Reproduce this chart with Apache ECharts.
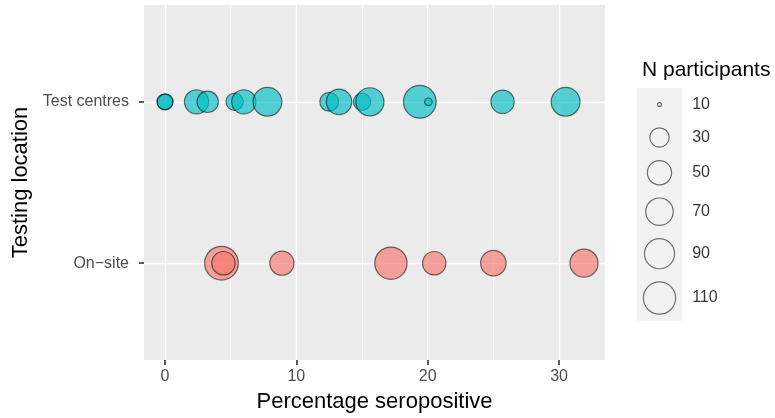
<!DOCTYPE html>
<html>
<head>
<meta charset="utf-8">
<script src="https://cdn.jsdelivr.net/npm/echarts@6/dist/echarts.min.js"></script>
<style>
html,body{margin:0;padding:0;background:#fff;}
#chart{width:775px;height:418px;}
</style>
</head>
<body>
<div id="chart"></div>
<script>
// ---- data ----
const yCategories = ['On\u2212site', 'Test centres'];   // y value = index + 1
const testCentrePct = [0, 0, 2.4, 3.25, 5.3, 6.0, 7.8, 12.5, 13.25, 15.0, 15.6, 19.4, 20.05, 25.7, 30.5];
const testCentreN   = [21, 20, 50, 37, 24, 50, 80, 28, 57, 24, 75, 115, 11, 46, 80];
const onSitePct = [4.3, 4.45, 8.9, 17.2, 20.5, 25.0, 31.9];
const onSiteN   = [125, 46, 50, 110, 46, 57, 75];
const xTicks = [0, 10, 20, 30];
const xMinorTicks = [5, 15, 25];
const legendBreaks = [10, 30, 50, 70, 90, 110];
const legendTitle = 'N participants';
const xTitle = 'Percentage seropositive';
const yTitle = 'Testing location';

// ---- styling / layout ----
const BW = 1.2;
function visibleDiam(n) { return 2 * 4.16 * Math.pow(Math.max(n - 9.8, 0.05), 0.302); }
function symSize(n) { return visibleDiam(n) - BW; }

// legend key layout (heights derived from symbol sizes)
const keyHeights = legendBreaks.map(n => Math.max(33, visibleDiam(n) + 12));
const legendH = keyHeights.reduce((a, b) => a + b, 0);
const keyCenters = [];
{ let acc = 0; keyHeights.forEach(h => { keyCenters.push(acc + h / 2); acc += h; }); }

const chart = echarts.init(document.getElementById('chart'));
const testIdx = yCategories.indexOf('Test centres') + 1;
const onIdx = yCategories.indexOf('On\u2212site') + 1;
const yTickVals = yCategories.map((c, i) => i + 1);

const gridLineMarks = {
  silent: true, symbol: 'none', z: 1, animation: false,
  label: { show: false },
  emphasis: { disabled: true },
  data: [
    ...xTicks.map(v => ({ xAxis: v, lineStyle: { color: '#fff', width: 1.4, type: 'solid' } })),
    ...xMinorTicks.map(v => ({ xAxis: v, lineStyle: { color: '#fff', width: 0.7, type: 'solid' } })),
    ...yTickVals.map(v => ({ yAxis: v, lineStyle: { color: '#fff', width: 1.4, type: 'solid' } }))
  ]
};

const option = {
  animation: false,
  textStyle: { fontFamily: 'Liberation Sans, Arial, sans-serif' },
  title: {
    text: legendTitle, left: 637, top: 55,
    textStyle: { fontSize: 21, fontWeight: 'normal', color: '#000' }
  },
  grid: [
    { left: 144, top: 5, width: 461, height: 358, show: true, backgroundColor: '#EBEBEB', borderWidth: 0 },
    { left: 637, top: 88, width: 45, height: legendH, show: true, backgroundColor: '#F2F2F2', borderWidth: 0 }
  ],
  xAxis: [
    {
      gridIndex: 0, type: 'value', min: -1.6, max: 33.5, position: 'bottom',
      axisLine: { show: true, onZero: false, lineStyle: { color: 'rgba(0,0,0,0)', width: 0 } },
      axisTick: { show: true, inside: false, customValues: xTicks, length: 5, lineStyle: { color: '#333', width: 1.6 } },
      axisLabel: { customValues: xTicks, color: '#4D4D4D', fontSize: 16, margin: 9 },
      splitLine: { show: false },
      name: xTitle, nameLocation: 'middle', nameGap: 31,
      nameTextStyle: { fontSize: 22, color: '#000' }
    },
    { gridIndex: 1, type: 'value', min: -1, max: 1, show: false }
  ],
  yAxis: [
    {
      gridIndex: 0, type: 'value', min: 0.4, max: 2.6,
      axisLine: { show: true, onZero: false, lineStyle: { color: 'rgba(0,0,0,0)', width: 0 } },
      axisTick: { show: true, customValues: yTickVals, length: 5, lineStyle: { color: '#333', width: 1.6 } },
      axisLabel: {
        customValues: yTickVals, color: '#4D4D4D', fontSize: 16, margin: 15,
        formatter: v => yCategories[Math.round(v) - 1] || ''
      },
      splitLine: { show: false },
      name: yTitle, nameLocation: 'middle', nameGap: 112,
      nameTextStyle: { fontSize: 22, color: '#000' }
    },
    { gridIndex: 1, type: 'value', min: 0, max: legendH, inverse: true, show: false }
  ],
  series: [
    {
      type: 'scatter', xAxisIndex: 0, yAxisIndex: 0, z: 2,
      data: testCentrePct.map((p, i) => [p, testIdx, testCentreN[i]]),
      symbolSize: v => symSize(v[2]),
      itemStyle: { color: 'rgba(0,191,196,0.65)', borderColor: 'rgba(0,0,0,0.55)', borderWidth: BW, opacity: 1 },
      markLine: gridLineMarks
    },
    {
      type: 'scatter', xAxisIndex: 0, yAxisIndex: 0, z: 2,
      data: onSitePct.map((p, i) => [p, onIdx, onSiteN[i]]),
      symbolSize: v => symSize(v[2]),
      itemStyle: { color: 'rgba(248,118,109,0.65)', borderColor: 'rgba(0,0,0,0.55)', borderWidth: BW, opacity: 1 }
    },
    {
      type: 'scatter', xAxisIndex: 1, yAxisIndex: 1, z: 3,
      data: legendBreaks.map((n, i) => [0, keyCenters[i], n]),
      symbolSize: v => symSize(v[2]),
      itemStyle: { color: 'rgba(0,0,0,0)', borderColor: 'rgba(0,0,0,0.55)', borderWidth: BW, opacity: 1 },
      silent: true
    },
    {
      type: 'scatter', xAxisIndex: 1, yAxisIndex: 1, z: 3, clip: false,
      data: legendBreaks.map((n, i) => [1.45, keyCenters[i], n]),
      symbolSize: 0,
      label: { show: true, position: 'right', distance: 0, formatter: p => String(p.value[2]), color: '#000', fontSize: 16 },
      silent: true
    }
  ]
};
chart.setOption(option);
</script>
</body>
</html>
